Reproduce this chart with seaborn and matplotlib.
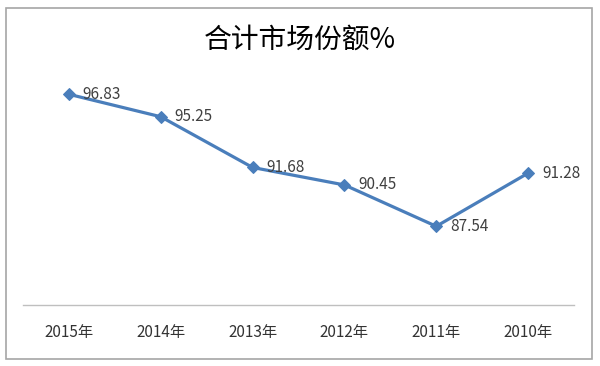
import matplotlib.pyplot as plt
import matplotlib.patches as mpatches
import pandas as pd
import seaborn as sns

# Data
years = ['2015年', '2014年', '2013年', '2012年', '2011年', '2010年']
share = [96.83, 95.25, 91.68, 90.45, 87.54, 91.28]
title = '合计市场份额%'

df = pd.DataFrame({'year': years, 'share': share})

sns.set_style('white')
plt.rcParams['font.family'] = ['Noto Sans CJK SC', 'DejaVu Sans']

fig = plt.figure(figsize=(6, 3.66), dpi=100)
ax = fig.add_axes([23 / 600, 1 - 305 / 366, 551 / 600, 235 / 366])

sns.lineplot(data=df, x='year', y='share', ax=ax, sort=False, color='#4A7EBB',
             linewidth=2.3, marker='D', markersize=6.5, markeredgecolor='#4A7EBB')

# data labels
for i, v in enumerate(share):
    ax.annotate(f'{v:.2f}', (i, v), xytext=(10, 0), textcoords='offset points',
                ha='left', va='center', fontsize=11, color='#404040')

ax.set_xlim(-0.5, len(years) - 0.5)
ax.set_ylim(82, 98.54)
ax.set_yticks([])
ax.set_xlabel('')
ax.set_ylabel('')
ax.tick_params(axis='x', length=0, pad=14, labelsize=11, labelcolor='#333333')
for side in ['top', 'left', 'right']:
    ax.spines[side].set_visible(False)
ax.spines['bottom'].set_color('#BFBFBF')
ax.spines['bottom'].set_linewidth(1)

fig.text(0.5, 1 - 40 / 366, title, ha='center', va='center', fontsize=20, color='#000000')

# outer chart border
fig.patches.append(mpatches.Rectangle((6 / 600, 7 / 366), 586 / 600, 351 / 366,
                                      transform=fig.transFigure, fill=False,
                                      edgecolor='#A6A6A6', linewidth=1.2))

fig.savefig('out.png', dpi=100)
